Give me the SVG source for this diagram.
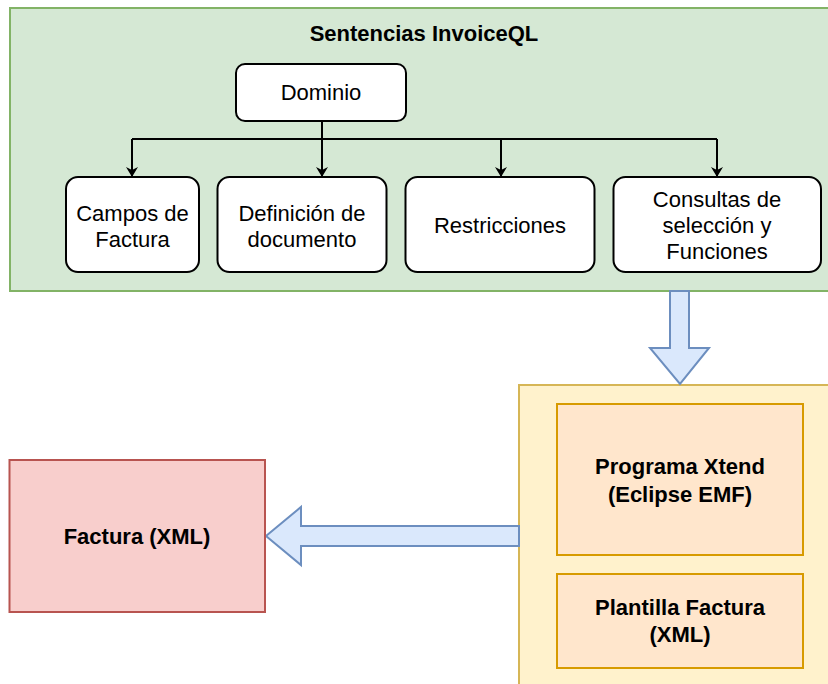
<svg xmlns="http://www.w3.org/2000/svg" width="828" height="684" viewBox="0 0 828 684">
<style>
text{font-family:"Liberation Sans",Arial,sans-serif;font-size:22px;fill:#000;text-anchor:middle}
.b{font-weight:bold}
.w{fill:#fff;stroke:#000;stroke-width:2}
.c{fill:none;stroke:#000;stroke-width:2}
.blk{fill:#dae8fc;stroke:#6c8ebf;stroke-width:2}
.o{fill:#ffe6cc;stroke:#d79b00;stroke-width:2}
</style>
<defs>
<marker id="ah" viewBox="0 0 10 12" refX="10" refY="6" markerWidth="10" markerHeight="12" markerUnits="userSpaceOnUse" orient="auto">
<path d="M0,0 L10,6 L0,12 L3,6 Z" fill="#000"/>
</marker>
</defs>
<g id="sentencias">
<rect x="10" y="8" width="822" height="283" fill="#d5e8d4" stroke="#82b366" stroke-width="2"/>
<text class="b" x="424" y="41">Sentencias InvoiceQL</text>
</g>
<g id="programa-container">
<rect x="519" y="385" width="315" height="305" fill="#fff2cc" stroke="#d6b656" stroke-width="2"/>
</g>
<g id="connectors">
<path class="c" d="M322,121 V139 M132,139 H717 M322,139 V177"/>
<path class="c" d="M132,139 V177" marker-end="url(#ah)"/>
<path class="c" d="M322,139 V177" marker-end="url(#ah)"/>
<path class="c" d="M501,139 V177" marker-end="url(#ah)"/>
<path class="c" d="M717,139 V177" marker-end="url(#ah)"/>
<path class="blk" d="M670,291 H689 V348 H709 L680,384 L650,348 H670 Z"/>
<path class="blk" d="M519,526 V546 H301 V565 L266,536 L301,507 V526 Z"/>
</g>
<g id="dominio">
<rect class="w" x="236" y="64" width="170" height="57" rx="9"/>
<text x="321" y="100">Dominio</text>
</g>
<g id="campos">
<rect class="w" x="66" y="177" width="133" height="95" rx="12"/>
<text x="132.5" y="221">Campos de</text>
<text x="132.5" y="247">Factura</text>
</g>
<g id="definicion">
<rect class="w" x="217.5" y="177" width="169" height="95" rx="12"/>
<text x="302" y="221">Definición de</text>
<text x="302" y="247">documento</text>
</g>
<g id="restricciones">
<rect class="w" x="405.5" y="177" width="189" height="95" rx="12"/>
<text x="500" y="233">Restricciones</text>
</g>
<g id="consultas">
<rect class="w" x="613.5" y="177" width="207.5" height="95" rx="12"/>
<text x="717" y="207">Consultas de</text>
<text x="717" y="233">selección y</text>
<text x="717" y="259">Funciones</text>
</g>
<g id="programa">
<rect class="o" x="557" y="404" width="246" height="151"/>
<text class="b" x="680" y="474">Programa Xtend</text>
<text class="b" x="680" y="502">(Eclipse EMF)</text>
</g>
<g id="plantilla">
<rect class="o" x="557" y="574" width="246" height="94"/>
<text class="b" x="680" y="615">Plantilla Factura</text>
<text class="b" x="680" y="642">(XML)</text>
</g>
<g id="factura">
<rect x="9.5" y="460" width="255.5" height="152" fill="#f8cecc" stroke="#b85450" stroke-width="2"/>
<text class="b" x="137" y="544">Factura (XML)</text>
</g>
</svg>
